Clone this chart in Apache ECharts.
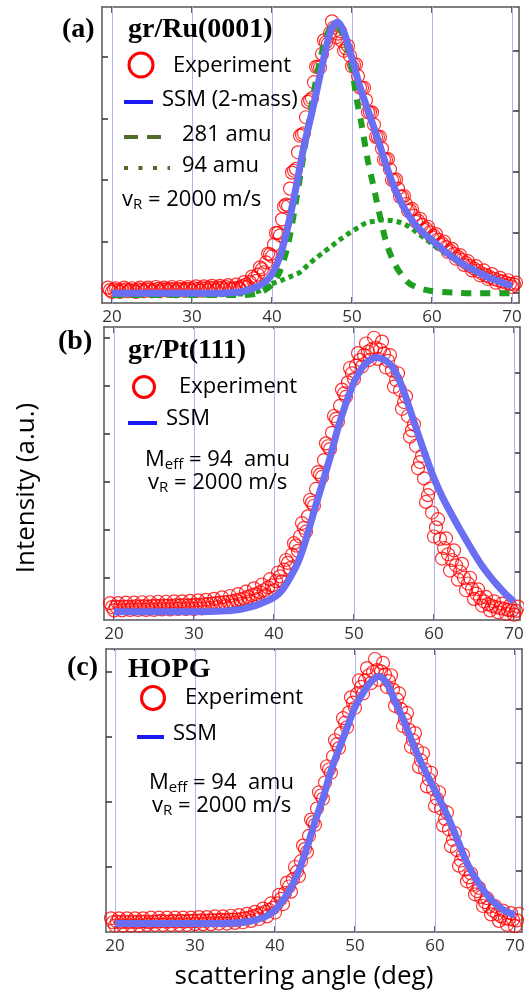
<!DOCTYPE html>
<html><head><meta charset="utf-8">
<script src="https://cdn.jsdelivr.net/npm/echarts@6/dist/echarts.min.js"></script>
<style>html,body{margin:0;padding:0;background:#fff}#c{width:524px;height:992px}</style>
</head><body><div id="c"></div>
<script>
// ---------- data ----------
const xTicks = [20, 30, 40, 50, 60, 70];
const expStart = 19.5, expStep = 0.5;     // band edge readings (alternating upper / lower)
const midStart = 19.75;                   // band centre readings, same step

// (a) gr/Ru(0001)
const expA = [
  0.25,0.18,0.24,0.18,0.25,0.19,0.24,0.18,0.25,0.19,
  0.25,0.19,0.26,0.19,0.25,0.20,0.26,0.19,0.26,0.20,
  0.26,0.20,0.27,0.20,0.27,0.21,0.28,0.21,0.28,0.22,
  0.29,0.22,0.30,0.23,0.34,0.27,0.43,0.36,0.58,0.50,
  0.80,0.76,1.14,1.10,1.57,1.58,2.12,2.18,2.72,2.76,
  3.27,3.33,3.84,3.83,4.27,4.22,4.58,4.32,4.42,4.10,
  4.18,3.85,3.88,3.50,3.50,3.10,3.10,2.70,2.70,2.33,
  2.34,2.00,2.01,1.73,1.74,1.50,1.53,1.32,1.37,1.19,
  1.24,1.07,1.12,0.95,1.00,0.83,0.88,0.72,0.78,0.62,
  0.68,0.53,0.60,0.45,0.53,0.39,0.47,0.33,0.41,0.29,
  0.37,0.26,0.33
];
const midA = [
  0.21,0.22,0.20,0.21,0.22,0.21,0.20,0.22,0.21,0.22,
  0.22,0.21,0.23,0.22,0.22,0.23,0.22,0.23,0.22,0.23,
  0.23,0.24,0.23,0.24,0.24,0.25,0.24,0.25,0.25,0.26,
  0.24,0.24,0.25,0.27,0.30,0.34,0.40,0.46,0.55,0.66,
  0.79,0.95,1.14,1.36,1.60,1.86,2.15,2.45,2.74,3.02,
  3.30,3.59,3.84,4.05,4.24,4.39,4.48,4.38,4.26,4.14,
  4.02,3.87,3.69,3.50,3.30,3.10,2.90,2.70,2.51,2.33,
  2.17,2.00,1.86,1.73,1.61,1.51,1.42,1.34,1.27,1.21,
  1.15,1.09,1.03,0.97,0.91,0.85,0.80,0.75,0.70,0.65,
  0.60,0.56,0.52,0.48,0.45,0.42,0.39,0.37,0.35,0.33,
  0.31,0.30
];
const ssmA = [[20,0.16],[25,0.16],[30,0.16],[33,0.16],[35,0.17],[36,0.18],[37,0.21],[38,0.26],[39,0.33],[40,0.47],
  [41,0.76],[42,1.25],[43,1.88],[44,2.55],[45,3.10],[46,3.70],[47,4.28],[47.5,4.48],[48.2,4.57],[49,4.40],
  [50,3.98],[51,3.51],[52,3.13],[53,2.75],[54,2.35],[55,1.97],[56,1.67],[57,1.44],[58,1.26],[59,1.13],
  [60,1.02],[61,0.91],[62,0.80],[63,0.71],[64,0.62],[65,0.55],[66,0.48],[67,0.42],[68,0.37],[69,0.32],[70,0.28]];
const m281A = [[20,0.13],[30,0.13],[36,0.13],[38,0.15],[39,0.20],[40,0.30],[41,0.52],[42,0.95],[43,1.65],[44,2.45],
  [45,3.25],[46,3.95],[47,4.40],[47.7,4.53],[48.5,4.45],[49.3,4.20],[50,3.80],[50.6,3.30],[51.2,2.90],[52,2.30],
  [52.6,1.95],[53.1,1.65],[54.25,1.00],[55.4,0.62],[56.8,0.36],[58,0.26],[59.75,0.20],[62.7,0.17],[65,0.16],[70,0.16]];
const m94A = [[20,0.13],[30,0.13],[35,0.14],[37,0.16],[38.5,0.20],[39.75,0.30],[41.2,0.37],[42.5,0.44],[43.5,0.50],[44.5,0.62],
  [45.5,0.73],[46.5,0.83],[47.6,0.94],[48.6,1.04],[49.7,1.14],[50.7,1.22],[51.75,1.30],[52.75,1.33],[53.8,1.35],[55,1.34],
  [56,1.31],[57,1.25],[58,1.16],[59,1.06],[60,0.96],[62,0.78],[64,0.62],[66,0.48],[68,0.37],[70,0.28]];

// (b) gr/Pt(111)
const expB = [
  0.35,0.20,0.35,0.20,0.36,0.21,0.36,0.21,0.37,0.21,
  0.37,0.21,0.38,0.22,0.38,0.22,0.39,0.23,0.39,0.23,
  0.40,0.23,0.41,0.24,0.42,0.25,0.44,0.27,0.47,0.29,
  0.50,0.31,0.54,0.34,0.59,0.39,0.66,0.44,0.74,0.52,
  0.85,0.62,0.99,0.80,1.25,1.08,1.60,1.44,2.02,1.84,
  2.50,2.38,3.08,2.98,3.68,3.56,4.25,4.13,4.80,4.65,
  5.25,5.02,5.56,5.28,5.76,5.42,5.88,5.44,5.80,5.26,
  5.52,4.86,5.14,4.40,4.66,3.82,4.08,3.16,3.42,2.46,
  2.74,1.74,2.10,1.28,1.70,1.03,1.45,0.84,1.17,0.62,
  0.88,0.44,0.64,0.30,0.48,0.20,0.39,0.16,0.34,0.13,
  0.30,0.11,0.28
];
const midB = [
  0.27,0.28,0.27,0.28,0.28,0.27,0.29,0.28,0.29,0.28,
  0.29,0.30,0.29,0.30,0.30,0.29,0.31,0.30,0.31,0.30,
  0.31,0.32,0.31,0.33,0.33,0.34,0.35,0.36,0.37,0.38,
  0.39,0.41,0.43,0.45,0.48,0.52,0.54,0.58,0.62,0.68,
  0.72,0.81,0.91,1.05,1.19,1.36,1.55,1.74,1.92,2.16,
  2.44,2.73,3.03,3.33,3.62,3.90,4.19,4.46,4.72,4.95,
  5.14,5.30,5.42,5.52,5.59,5.64,5.67,5.63,5.55,5.40,
  5.20,5.00,4.79,4.54,4.25,3.95,3.63,3.29,2.95,2.60,
  2.24,1.93,1.69,1.50,1.37,1.25,1.14,1.01,0.88,0.76,
  0.65,0.55,0.46,0.39,0.33,0.29,0.27,0.25,0.23,0.21,
  0.20,0.19
];
const ssmB = [[20,0.17],[30,0.17],[34,0.19],[36,0.23],[37,0.27],[38,0.32],[39,0.39],[40,0.47],[41,0.62],[42,0.88],
  [43,1.20],[44,1.68],[45,2.26],[46,2.82],[47,3.38],[48,4.00],[49,4.52],[50,4.95],[51,5.25],[52,5.42],
  [52.8,5.47],[54,5.40],[55,5.22],[56,4.86],[57,4.38],[58,3.88],[59,3.40],[60,2.95],[61,2.58],[62,2.26],
  [63,1.96],[64,1.67],[65,1.39],[66,1.13],[67,0.91],[68,0.71],[69,0.53],[70,0.38]];

// (c) HOPG
const expC = [
  0.21,0.10,0.21,0.10,0.21,0.10,0.21,0.10,0.21,0.11,
  0.22,0.11,0.22,0.11,0.22,0.11,0.22,0.11,0.22,0.11,
  0.22,0.12,0.23,0.12,0.23,0.12,0.24,0.13,0.24,0.13,
  0.25,0.14,0.26,0.15,0.28,0.17,0.31,0.20,0.36,0.24,
  0.44,0.30,0.57,0.43,0.76,0.62,1.00,0.86,1.33,1.23,
  1.73,1.65,2.15,2.05,2.55,2.45,2.95,2.83,3.29,3.15,
  3.61,3.45,3.87,3.67,4.06,3.83,4.20,3.88,4.14,3.77,
  3.95,3.48,3.67,3.17,3.37,2.85,3.06,2.54,2.75,2.24,
  2.45,1.94,2.15,1.64,1.84,1.32,1.52,1.02,1.19,0.78,
  0.90,0.58,0.68,0.40,0.52,0.27,0.40,0.17,0.33,0.11,
  0.29,0.09,0.28
];
const midC = [
  0.15,0.16,0.15,0.16,0.15,0.16,0.15,0.16,0.16,0.15,
  0.16,0.16,0.17,0.16,0.16,0.17,0.16,0.17,0.16,0.17,
  0.17,0.17,0.18,0.17,0.18,0.18,0.18,0.19,0.18,0.19,
  0.19,0.19,0.20,0.21,0.22,0.24,0.26,0.28,0.31,0.34,
  0.37,0.44,0.51,0.60,0.70,0.81,0.93,1.09,1.28,1.48,
  1.69,1.90,2.10,2.30,2.50,2.70,2.89,3.06,3.22,3.38,
  3.53,3.66,3.77,3.87,3.95,4.00,4.03,4.01,3.96,3.86,
  3.73,3.58,3.43,3.27,3.11,2.95,2.80,2.64,2.50,2.35,
  2.20,2.05,1.90,1.74,1.58,1.42,1.26,1.10,0.96,0.84,
  0.73,0.63,0.54,0.46,0.39,0.33,0.28,0.24,0.21,0.20,
  0.19,0.18
];
const ssmC = [[20,0.13],[30,0.13],[35,0.14],[37,0.17],[38,0.20],[39,0.25],[40,0.34],[41,0.49],[42,0.68],[43,0.95],
  [44,1.30],[45,1.70],[46,2.06],[47,2.48],[48,2.82],[49,3.14],[50,3.46],[51,3.68],[52,3.85],[53,3.93],
  [54,3.82],[55,3.55],[56,3.28],[57,2.97],[58,2.68],[59,2.42],[60,2.18],[61,1.93],[62,1.66],[63,1.36],
  [64,1.06],[65,0.84],[66,0.65],[67,0.50],[68,0.39],[69,0.31],[70,0.26]];

// y tick positions (a.u.) on the left and right frames
const yTickLA = [1, 2, 3, 4],               yTickRA = [0.163, 1.15, 2.13, 3.12, 4.10];
const yTickLB = [0.875, 1.875, 2.875, 3.875, 4.875, 5.875], yTickRB = [1.0, 1.833, 2.667, 3.479, 4.31, 5.146];
const yTickLC = [1, 2, 3, 4],               yTickRC = [0.95, 1.77, 2.6, 3.43];

// ---------- layout ----------
const panels = [
  {grid:{left:102, top:7,   width:417, height:296}, x:[18.75, 70.875], y:[0, 4.813], tl:yTickLA, tr:yTickRA},
  {grid:{left:104, top:327, width:416, height:293}, x:[18.75, 70.75],  y:[0, 6.104], tl:yTickLB, tr:yTickRB},
  {grid:{left:106, top:649, width:416, height:283}, x:[18.875, 70.875], y:[0, 4.354], tl:yTickLC, tr:yTickRC}
];
const SANS = '"Open Sans", "Noto Sans", sans-serif';
const SERIF = '"Liberation Serif", "DejaVu Serif", serif';
const axisCol = '#555';

const grid = [], xAxis = [], yAxis = [], series = [];
panels.forEach((p, i) => {
  grid.push(Object.assign({show:false, containLabel:false, outerBoundsMode:'none'}, p.grid));
  const common = {type:'value', gridIndex:i, min:p.x[0], max:p.x[1],
    axisLine:{show:true, onZero:false, lineStyle:{color:axisCol, width:1.5}},
    axisTick:{show:true, inside:true, length:6, customValues:xTicks, lineStyle:{color:'#333', width:1.5}},
    splitLine:{show:false}};
  xAxis.push(Object.assign({}, common, {position:'bottom',
    axisLabel:{show:true, customValues:xTicks, fontSize:17, color:'#333', fontFamily:SANS, margin:6}}));
  xAxis.push(Object.assign({}, common, {position:'top', axisLabel:{show:false}}));
  const yc = {type:'value', gridIndex:i, min:p.y[0], max:p.y[1],
    axisLine:{show:true, onZero:false, lineStyle:{color:axisCol, width:1.5}},
    axisLabel:{show:false}, splitLine:{show:false}};
  yAxis.push(Object.assign({}, yc, {position:'left',
    axisTick:{show:true, inside:true, length:6, customValues:p.tl, lineStyle:{color:'#333', width:1.5}}}));
  yAxis.push(Object.assign({}, yc, {position:'right',
    axisTick:{show:true, inside:true, length:6, customValues:p.tr, lineStyle:{color:'#333', width:1.5}}}));
});

const expSets = [expA, expB, expC];
const midSets = [midA, midB, midC];
const ssmSets = [ssmA, ssmB, ssmC];
for (let i = 0; i < 3; i++) {
  const xi = i * 2, yi = i * 2;
  // vertical grid lines
  series.push({type:'line', xAxisIndex:xi, yAxisIndex:yi, data:ssmSets[i], showSymbol:false, silent:true, z:1,
    lineStyle:{opacity:0}, markLine:{silent:true, symbol:'none', animation:false, label:{show:false},
      lineStyle:{color:'#aeb2f6', width:1, type:'solid'}, data:xTicks.map(v => ({xAxis:v}))}});
  const pts = expSets[i].map((v, k) => [expStart + k * expStep, v])
    .concat(midSets[i].map((v, k) => [midStart + k * expStep, v]));
  series.push({type:'scatter', xAxisIndex:xi, yAxisIndex:yi, z:5, symbol:'circle', symbolSize:13, silent:true,
    large:false, data:pts,
    itemStyle:{color:'rgba(0,0,0,0)', borderColor:'#ff0000', borderWidth:1.2}});
  if (i === 0) {
    series.push({type:'line', xAxisIndex:0, yAxisIndex:0, z:6, data:m94A, smooth:0.3, showSymbol:false, silent:true,
      lineStyle:{color:'#1f9f1f', width:5, type:[5, 4]}});
    series.push({type:'line', xAxisIndex:0, yAxisIndex:0, z:6, data:m281A, smooth:0.3, showSymbol:false, silent:true,
      lineStyle:{color:'#1f9f1f', width:6, type:[10, 9]}});
  }
  series.push({type:'line', xAxisIndex:xi, yAxisIndex:yi, z:7, data:ssmSets[i], smooth:0.3, showSymbol:false, silent:true,
    lineStyle:{color:'#6a6ef2', width:7}});
}

// ---------- annotations ----------
const G = [];
function txt(x, y, text, font, opts) {
  G.push({type:'text', x:x, y:y, z:10,
    style:Object.assign({text:text, font:font, fill:'#000', textAlign:'left', textVerticalAlign:'middle'}, opts || {})});
}
function sub(x, y, a, s, b) {
  G.push({type:'text', x:x, y:y, z:10, style:{text:'{n|' + a + '}{s|' + s + '}{n|' + b + '}',
    fill:'#000', textAlign:'left', textVerticalAlign:'middle',
    rich:{n:{fontSize:22, fontFamily:SANS, lineHeight:26, fill:'#000'},
          s:{fontSize:15, fontFamily:SANS, lineHeight:15, padding:[10,0,0,0], fill:'#000'}}}});
}
function ring(cx, cy, r) { G.push({type:'circle', z:10, shape:{cx:cx, cy:cy, r:r}, style:{fill:'none', stroke:'#ff0000', lineWidth:3}}); }
function seg(x1, x2, y, color, w, dash) { G.push({type:'line', z:10, shape:{x1:x1, y1:y, x2:x2, y2:y},
  style:{stroke:color, lineWidth:w, lineDash:dash || null}}); }
function cover(x, y, w, h) { G.push({type:'rect', z:2, shape:{x:x, y:y, width:w, height:h}, style:{fill:'#fff'}}); }

cover(116, 329, 184, 209);
cover(113, 651, 205, 211);

const F21 = '22px ' + SANS, FT = 'bold 28px ' + SERIF, FH = 'bold 28px ' + SERIF;
// (a)
txt(62, 30, '(a)', FT); txt(128, 30, 'gr/Ru(0001)', FH);
ring(141, 65, 12); txt(173, 66, 'Experiment', F21);
seg(124, 153, 102, '#1a1af5', 4); txt(162, 100, 'SSM (2-mass)', F21);
seg(124, 166, 137, '#4f6b2e', 4, [14, 9]); txt(182, 135, '281 amu', F21);
seg(124, 170, 168, '#4f6b2e', 4, [4, 10.5]); txt(182, 166, '94 amu', F21);
sub(122, 200, 'v', 'R', ' = 2000 m/s');
// (b)
txt(58, 342, '(b)', FT); txt(128, 351, 'gr/Pt(111)', FH);
ring(144, 387, 10.5); txt(179, 387, 'Experiment', F21);
seg(128, 157, 423, '#1a1af5', 4); txt(166, 419, 'SSM', F21);
sub(145, 460, 'M', 'eff', ' = 94  amu');
sub(148, 483, 'v', 'R', ' = 2000 m/s');
// (c)
txt(67, 668, '(c)', FT); txt(128, 670, 'HOPG', FH);
ring(153, 698, 11.5); txt(185, 698, 'Experiment', F21);
seg(137, 164, 737, '#1a1af5', 4); txt(173, 734, 'SSM', F21);
sub(149, 783, 'M', 'eff', ' = 94  amu');
sub(152, 806, 'v', 'R', ' = 2000 m/s');
// axis titles
G.push({type:'text', x:27, y:488, rotation:Math.PI / 2, z:10,
  style:{text:'Intensity (a.u.)', font:'26px ' + SANS, fill:'#000', textAlign:'center', textVerticalAlign:'middle'}});
txt(304, 977, 'scattering angle (deg)', '26px ' + SANS, {textAlign:'center'});

const chart = echarts.init(document.getElementById('c'), null, {renderer:'canvas'});
chart.setOption({animation:false, backgroundColor:'#fff', grid:grid, xAxis:xAxis, yAxis:yAxis, series:series, graphic:G});
</script></body></html>
